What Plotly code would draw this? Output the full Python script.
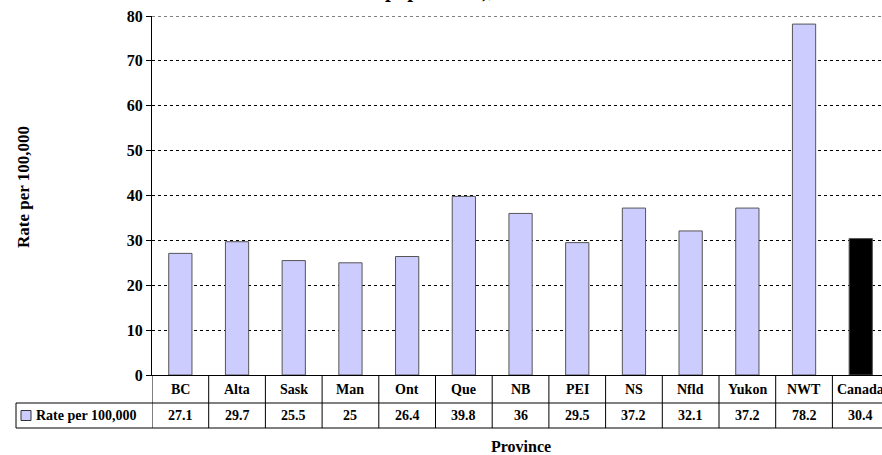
import plotly.graph_objects as go

provinces = ["BC", "Alta", "Sask", "Man", "Ont", "Que", "NB", "PEI", "NS", "Nfld", "Yukon", "NWT", "Canada"]
rates = [27.1, 29.7, 25.5, 25, 26.4, 39.8, 36, 29.5, 37.2, 32.1, 37.2, 78.2, 30.4]
value_labels = ["27.1", "29.7", "25.5", "25", "26.4", "39.8", "36", "29.5", "37.2", "32.1", "37.2", "78.2", "30.4"]
y_ticks = [0, 10, 20, 30, 40, 50, 60, 70, 80]
series_name = "Rate per 100,000"

FONT = "Liberation Serif"
W, H = 882, 455
L, T = 152, 16
B = H - 375
R = 0
pw, ph = W - L - R, H - T - B
cat_px = 56.7
x_end = -0.5 + pw / cat_px

def py(px_below):  # pixels below plot bottom -> paper y
    return -px_below / ph

def px(xpix):  # screenshot pixel x -> paper x
    return (xpix - 152) / pw

colors = ["#CCCCFF"] * (len(provinces) - 1) + ["#000000"]

fig = go.Figure()
fig.add_trace(go.Bar(
    x=list(range(len(provinces))), y=rates, width=0.41,
    marker=dict(color=colors, line=dict(color="#555555", width=1)),
    name=series_name, showlegend=False, hoverinfo="y",
))

shapes = []
row1, row2 = 28, 53
# top dotted gridline at 80
shapes.append(dict(type="line", xref="paper", yref="y", x0=0, x1=1, y0=80, y1=80,
                   line=dict(color="#000000", width=1, dash="dot")))
# vertical lines of the data table
for i in range(len(provinces) + 1):
    shapes.append(dict(type="line", xref="x", yref="paper", x0=i - 0.5, x1=i - 0.5,
                       y0=0, y1=py(row2), line=dict(color="#000000", width=1)))
# horizontal lines
shapes.append(dict(type="line", xref="paper", yref="paper", x0=px(16), x1=1.02,
                   y0=py(row1), y1=py(row1), line=dict(color="#000000", width=1)))
shapes.append(dict(type="line", xref="paper", yref="paper", x0=px(16), x1=1.02,
                   y0=py(row2), y1=py(row2), line=dict(color="#000000", width=1)))
shapes.append(dict(type="line", xref="paper", yref="paper", x0=px(16), x1=px(16),
                   y0=py(row1), y1=py(row2), line=dict(color="#000000", width=1)))
# legend key
shapes.append(dict(type="rect", xref="paper", yref="paper", x0=px(21), x1=px(31),
                   y0=py(row1 + 7.5), y1=py(row1 + 17.5),
                   fillcolor="#CCCCFF", line=dict(color="#333333", width=1)))

tfont = dict(family=FONT, size=14, color="#000000")
annotations = []
for i, (p, v) in enumerate(zip(provinces, value_labels)):
    annotations.append(dict(x=i, y=py(row1 / 2), xref="x", yref="paper", text="<b>" + p + "</b>",
                            showarrow=False, font=tfont, xanchor="center", yanchor="middle"))
    annotations.append(dict(x=i, y=py((row1 + row2) / 2), xref="x", yref="paper", text="<b>" + v + "</b>",
                            showarrow=False, font=tfont, xanchor="center", yanchor="middle"))
annotations.append(dict(x=px(34), y=py((row1 + row2) / 2), xref="paper", yref="paper",
                        text="<b>" + series_name + "</b>", showarrow=False, xanchor="left", yanchor="middle",
                        font=dict(family=FONT, size=14, color="#000000")))
annotations.append(dict(x=px(521), y=py(71), xref="paper", yref="paper", text="<b>Province</b>",
                        showarrow=False, xanchor="center", yanchor="middle",
                        font=dict(family=FONT, size=16, color="#000000")))
annotations.append(dict(x=px(23), y=(375 - 187) / ph, xref="paper", yref="paper", text="<b>Rate per 100,000</b>",
                        showarrow=False, textangle=-90, xanchor="center", yanchor="middle",
                        font=dict(family=FONT, size=17, color="#000000")))
annotations.append(dict(x=px(383), y=1 + 12 / ph, xref="paper", yref="paper",
                        text="<b>population), 1996</b>", showarrow=False, xanchor="left", yanchor="bottom",
                        font=dict(family=FONT, size=21, color="#000000")))

fig.update_layout(
    width=W, height=H, margin=dict(l=L, r=R, t=T, b=B, pad=0),
    paper_bgcolor="#FFFFFF", plot_bgcolor="#FFFFFF",
    shapes=shapes, annotations=annotations,
    xaxis=dict(range=[-0.5, x_end], showticklabels=False, showgrid=False, zeroline=False,
               showline=True, linecolor="#000000", linewidth=1, ticks=""),
    yaxis=dict(range=[0, 80], tickvals=y_ticks, ticktext=["<b>%d</b>" % t for t in y_ticks],
               showgrid=True, gridcolor="#000000", griddash="dot", gridwidth=1,
               zeroline=False, showline=True, linecolor="#000000", linewidth=1,
               ticks="outside", ticklen=5, tickcolor="#000000", ticklabeloverflow="allow",
               tickfont=dict(family=FONT, size=16, color="#000000")),
)
fig.write_html("out.html", config={"displayModeBar": False},
               post_script="document.body.style.margin='0';document.body.style.overflow='hidden';")
